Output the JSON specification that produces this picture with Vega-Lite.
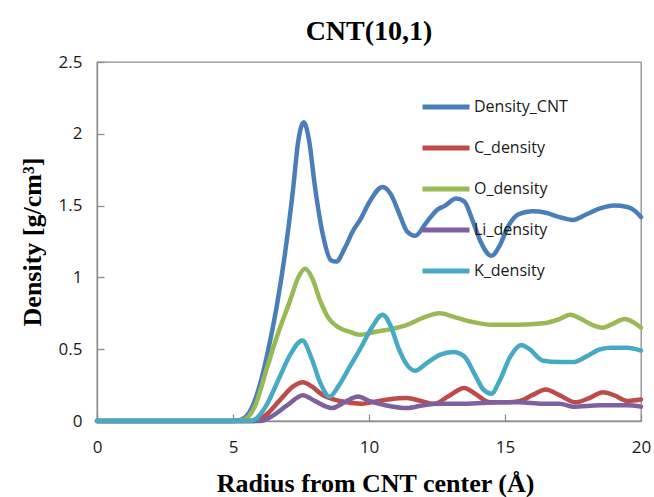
{
  "$schema": "https://vega.github.io/schema/vega-lite/v6.json",
  "width": 544,
  "height": 359,
  "autosize": {"type": "none"},
  "padding": {"left": 97, "top": 62, "right": 13, "bottom": 76},
  "background": "white",
  "title": {
    "text": "CNT(10,1)",
    "font": "Liberation Serif",
    "fontSize": 28,
    "fontWeight": "bold",
    "color": "#000000",
    "anchor": "middle",
    "frame": "group",
    "baseline": "alphabetic",
    "offset": 19,
    "dy": 34
  },
  "data": {
    "values": [
      {"r": 0, "d": 0, "series": "Density_CNT"},
      {"r": 5.0, "d": 0, "series": "Density_CNT"},
      {"r": 5.3, "d": 0.01, "series": "Density_CNT"},
      {"r": 5.6, "d": 0.06, "series": "Density_CNT"},
      {"r": 6.0, "d": 0.26, "series": "Density_CNT"},
      {"r": 6.3, "d": 0.5, "series": "Density_CNT"},
      {"r": 6.6, "d": 0.79, "series": "Density_CNT"},
      {"r": 6.9, "d": 1.15, "series": "Density_CNT"},
      {"r": 7.2, "d": 1.6, "series": "Density_CNT"},
      {"r": 7.4, "d": 1.95, "series": "Density_CNT"},
      {"r": 7.6, "d": 2.08, "series": "Density_CNT"},
      {"r": 7.8, "d": 1.95, "series": "Density_CNT"},
      {"r": 8.0, "d": 1.65, "series": "Density_CNT"},
      {"r": 8.3, "d": 1.3, "series": "Density_CNT"},
      {"r": 8.6, "d": 1.12, "series": "Density_CNT"},
      {"r": 8.8, "d": 1.11, "series": "Density_CNT"},
      {"r": 9.1, "d": 1.2, "series": "Density_CNT"},
      {"r": 9.4, "d": 1.32, "series": "Density_CNT"},
      {"r": 9.7, "d": 1.41, "series": "Density_CNT"},
      {"r": 10.0, "d": 1.52, "series": "Density_CNT"},
      {"r": 10.5, "d": 1.63, "series": "Density_CNT"},
      {"r": 10.8, "d": 1.58, "series": "Density_CNT"},
      {"r": 11.1, "d": 1.45, "series": "Density_CNT"},
      {"r": 11.4, "d": 1.32, "series": "Density_CNT"},
      {"r": 11.7, "d": 1.29, "series": "Density_CNT"},
      {"r": 12.1, "d": 1.38, "series": "Density_CNT"},
      {"r": 12.5, "d": 1.47, "series": "Density_CNT"},
      {"r": 12.8, "d": 1.5, "series": "Density_CNT"},
      {"r": 13.2, "d": 1.55, "series": "Density_CNT"},
      {"r": 13.5, "d": 1.53, "series": "Density_CNT"},
      {"r": 13.8, "d": 1.4, "series": "Density_CNT"},
      {"r": 14.1, "d": 1.25, "series": "Density_CNT"},
      {"r": 14.5, "d": 1.15, "series": "Density_CNT"},
      {"r": 14.8, "d": 1.22, "series": "Density_CNT"},
      {"r": 15.1, "d": 1.35, "series": "Density_CNT"},
      {"r": 15.5, "d": 1.44, "series": "Density_CNT"},
      {"r": 16.0, "d": 1.46, "series": "Density_CNT"},
      {"r": 16.5, "d": 1.45, "series": "Density_CNT"},
      {"r": 17.0, "d": 1.42, "series": "Density_CNT"},
      {"r": 17.5, "d": 1.4, "series": "Density_CNT"},
      {"r": 18.0, "d": 1.44, "series": "Density_CNT"},
      {"r": 18.5, "d": 1.48, "series": "Density_CNT"},
      {"r": 19.0, "d": 1.5, "series": "Density_CNT"},
      {"r": 19.5, "d": 1.49, "series": "Density_CNT"},
      {"r": 19.8, "d": 1.46, "series": "Density_CNT"},
      {"r": 20.0, "d": 1.42, "series": "Density_CNT"},

      {"r": 0, "d": 0, "series": "C_density"},
      {"r": 5.8, "d": 0, "series": "C_density"},
      {"r": 6.2, "d": 0.04, "series": "C_density"},
      {"r": 6.7, "d": 0.14, "series": "C_density"},
      {"r": 7.2, "d": 0.24, "series": "C_density"},
      {"r": 7.57, "d": 0.27, "series": "C_density"},
      {"r": 7.9, "d": 0.24, "series": "C_density"},
      {"r": 8.3, "d": 0.18, "series": "C_density"},
      {"r": 8.7, "d": 0.15, "series": "C_density"},
      {"r": 9.2, "d": 0.13, "series": "C_density"},
      {"r": 9.7, "d": 0.12, "series": "C_density"},
      {"r": 10.1, "d": 0.13, "series": "C_density"},
      {"r": 10.7, "d": 0.15, "series": "C_density"},
      {"r": 11.4, "d": 0.16, "series": "C_density"},
      {"r": 11.9, "d": 0.14, "series": "C_density"},
      {"r": 12.4, "d": 0.12, "series": "C_density"},
      {"r": 12.9, "d": 0.17, "series": "C_density"},
      {"r": 13.5, "d": 0.23, "series": "C_density"},
      {"r": 13.9, "d": 0.19, "series": "C_density"},
      {"r": 14.45, "d": 0.13, "series": "C_density"},
      {"r": 15.0, "d": 0.13, "series": "C_density"},
      {"r": 15.55, "d": 0.14, "series": "C_density"},
      {"r": 16.0, "d": 0.18, "series": "C_density"},
      {"r": 16.5, "d": 0.22, "series": "C_density"},
      {"r": 17.0, "d": 0.18, "series": "C_density"},
      {"r": 17.6, "d": 0.13, "series": "C_density"},
      {"r": 18.1, "d": 0.16, "series": "C_density"},
      {"r": 18.6, "d": 0.2, "series": "C_density"},
      {"r": 19.0, "d": 0.18, "series": "C_density"},
      {"r": 19.5, "d": 0.14, "series": "C_density"},
      {"r": 20.0, "d": 0.15, "series": "C_density"},

      {"r": 0, "d": 0, "series": "O_density"},
      {"r": 5.0, "d": 0, "series": "O_density"},
      {"r": 5.4, "d": 0.01, "series": "O_density"},
      {"r": 5.8, "d": 0.1, "series": "O_density"},
      {"r": 6.25, "d": 0.37, "series": "O_density"},
      {"r": 6.6, "d": 0.58, "series": "O_density"},
      {"r": 7.1, "d": 0.84, "series": "O_density"},
      {"r": 7.4, "d": 1.0, "series": "O_density"},
      {"r": 7.65, "d": 1.06, "series": "O_density"},
      {"r": 7.9, "d": 1.0, "series": "O_density"},
      {"r": 8.2, "d": 0.84, "series": "O_density"},
      {"r": 8.5, "d": 0.72, "series": "O_density"},
      {"r": 8.9, "d": 0.65, "series": "O_density"},
      {"r": 9.3, "d": 0.62, "series": "O_density"},
      {"r": 9.7, "d": 0.6, "series": "O_density"},
      {"r": 10.2, "d": 0.62, "series": "O_density"},
      {"r": 10.8, "d": 0.64, "series": "O_density"},
      {"r": 11.4, "d": 0.67, "series": "O_density"},
      {"r": 12.0, "d": 0.72, "series": "O_density"},
      {"r": 12.6, "d": 0.75, "series": "O_density"},
      {"r": 13.2, "d": 0.72, "series": "O_density"},
      {"r": 13.8, "d": 0.69, "series": "O_density"},
      {"r": 14.5, "d": 0.67, "series": "O_density"},
      {"r": 15.5, "d": 0.67, "series": "O_density"},
      {"r": 16.4, "d": 0.68, "series": "O_density"},
      {"r": 17.0, "d": 0.71, "series": "O_density"},
      {"r": 17.4, "d": 0.74, "series": "O_density"},
      {"r": 17.8, "d": 0.71, "series": "O_density"},
      {"r": 18.2, "d": 0.67, "series": "O_density"},
      {"r": 18.6, "d": 0.65, "series": "O_density"},
      {"r": 19.0, "d": 0.68, "series": "O_density"},
      {"r": 19.4, "d": 0.71, "series": "O_density"},
      {"r": 19.7, "d": 0.69, "series": "O_density"},
      {"r": 20.0, "d": 0.65, "series": "O_density"},

      {"r": 0, "d": 0, "series": "Li_density"},
      {"r": 6.0, "d": 0, "series": "Li_density"},
      {"r": 6.4, "d": 0.03, "series": "Li_density"},
      {"r": 7.0, "d": 0.11, "series": "Li_density"},
      {"r": 7.57, "d": 0.18, "series": "Li_density"},
      {"r": 8.0, "d": 0.14, "series": "Li_density"},
      {"r": 8.64, "d": 0.09, "series": "Li_density"},
      {"r": 9.1, "d": 0.13, "series": "Li_density"},
      {"r": 9.6, "d": 0.17, "series": "Li_density"},
      {"r": 10.0, "d": 0.14, "series": "Li_density"},
      {"r": 10.6, "d": 0.11, "series": "Li_density"},
      {"r": 11.4, "d": 0.09, "series": "Li_density"},
      {"r": 12.0, "d": 0.11, "series": "Li_density"},
      {"r": 12.6, "d": 0.12, "series": "Li_density"},
      {"r": 13.5, "d": 0.12, "series": "Li_density"},
      {"r": 14.8, "d": 0.13, "series": "Li_density"},
      {"r": 15.5, "d": 0.13, "series": "Li_density"},
      {"r": 16.4, "d": 0.12, "series": "Li_density"},
      {"r": 17.0, "d": 0.12, "series": "Li_density"},
      {"r": 17.5, "d": 0.1, "series": "Li_density"},
      {"r": 18.5, "d": 0.11, "series": "Li_density"},
      {"r": 19.5, "d": 0.11, "series": "Li_density"},
      {"r": 20.0, "d": 0.1, "series": "Li_density"},

      {"r": 0, "d": 0, "series": "K_density"},
      {"r": 5.6, "d": 0, "series": "K_density"},
      {"r": 5.8, "d": 0.01, "series": "K_density"},
      {"r": 6.2, "d": 0.1, "series": "K_density"},
      {"r": 6.7, "d": 0.3, "series": "K_density"},
      {"r": 7.1, "d": 0.46, "series": "K_density"},
      {"r": 7.55, "d": 0.56, "series": "K_density"},
      {"r": 7.9, "d": 0.43, "series": "K_density"},
      {"r": 8.2, "d": 0.27, "series": "K_density"},
      {"r": 8.55, "d": 0.17, "series": "K_density"},
      {"r": 8.9, "d": 0.25, "series": "K_density"},
      {"r": 9.3, "d": 0.38, "series": "K_density"},
      {"r": 9.7, "d": 0.51, "series": "K_density"},
      {"r": 10.1, "d": 0.65, "series": "K_density"},
      {"r": 10.5, "d": 0.74, "series": "K_density"},
      {"r": 10.8, "d": 0.66, "series": "K_density"},
      {"r": 11.1, "d": 0.5, "series": "K_density"},
      {"r": 11.4, "d": 0.39, "series": "K_density"},
      {"r": 11.7, "d": 0.35, "series": "K_density"},
      {"r": 12.1, "d": 0.4, "series": "K_density"},
      {"r": 12.6, "d": 0.46, "series": "K_density"},
      {"r": 13.1, "d": 0.48, "series": "K_density"},
      {"r": 13.5, "d": 0.45, "series": "K_density"},
      {"r": 13.9, "d": 0.32, "series": "K_density"},
      {"r": 14.2, "d": 0.22, "series": "K_density"},
      {"r": 14.5, "d": 0.19, "series": "K_density"},
      {"r": 14.8, "d": 0.28, "series": "K_density"},
      {"r": 15.2, "d": 0.45, "series": "K_density"},
      {"r": 15.6, "d": 0.53, "series": "K_density"},
      {"r": 15.9, "d": 0.5, "series": "K_density"},
      {"r": 16.4, "d": 0.42, "series": "K_density"},
      {"r": 17.0, "d": 0.41, "series": "K_density"},
      {"r": 17.5, "d": 0.41, "series": "K_density"},
      {"r": 18.0, "d": 0.45, "series": "K_density"},
      {"r": 18.5, "d": 0.5, "series": "K_density"},
      {"r": 18.9, "d": 0.51, "series": "K_density"},
      {"r": 19.5, "d": 0.51, "series": "K_density"},
      {"r": 20.0, "d": 0.49, "series": "K_density"}
    ]
  },
  "mark": {
    "type": "line",
    "interpolate": "monotone",
    "strokeWidth": 4.5,
    "strokeCap": "round",
    "strokeJoin": "round"
  },
  "encoding": {
    "x": {
      "field": "r",
      "type": "quantitative",
      "scale": {"domain": [0, 20], "nice": false},
      "axis": {
        "title": "Radius from CNT center (Å)",
        "values": [0, 5, 10, 15, 20],
        "grid": false,
        "labelFlush": false,
        "tickSize": -7,
        "labelPadding": 25,
        "titleBaseline": "alphabetic",
        "titleY": 70,
        "titleX": 278
      }
    },
    "y": {
      "field": "d",
      "type": "quantitative",
      "scale": {"domain": [0, 2.5], "nice": false},
      "axis": {
        "title": "Density [g/cm³]",
        "values": [0, 0.5, 1, 1.5, 2, 2.5],
        "format": "~g",
        "grid": false,
        "labelFlush": false,
        "tickSize": -7,
        "labelPadding": 22,
        "titleBaseline": "alphabetic",
        "titleX": -57,
        "titleY": 179.5
      }
    },
    "color": {
      "field": "series",
      "type": "nominal",
      "sort": ["Density_CNT", "C_density", "O_density", "Li_density", "K_density"],
      "scale": {
        "domain": ["Density_CNT", "C_density", "O_density", "Li_density", "K_density"],
        "range": ["#4A7EBB", "#BE4B48", "#98B954", "#7D60A0", "#46AAC5"]
      },
      "legend": {
        "title": null,
        "orient": "none",
        "legendX": 323,
        "legendY": 19,
        "padding": 0,
        "symbolType": "stroke",
        "symbolSize": 2209,
        "symbolStrokeWidth": 5,
        "labelOffset": 2,
        "rowPadding": 5,
        "labelFont": "Open Sans",
        "labelFontSize": 16,
        "labelColor": "#1a1a1a"
      }
    }
  },
  "config": {
    "view": {"stroke": "#8C8C8C", "strokeWidth": 1.3},
    "axis": {
      "domainColor": "#8C8C8C",
      "domainWidth": 1.3,
      "tickColor": "#8C8C8C",
      "tickWidth": 1.3,
      "labelFont": "Open Sans",
      "labelFontSize": 17,
      "labelColor": "#1a1a1a",
      "titleFont": "Liberation Serif",
      "titleFontSize": 26,
      "titleFontWeight": "bold",
      "titleColor": "#000000"
    }
  }
}
